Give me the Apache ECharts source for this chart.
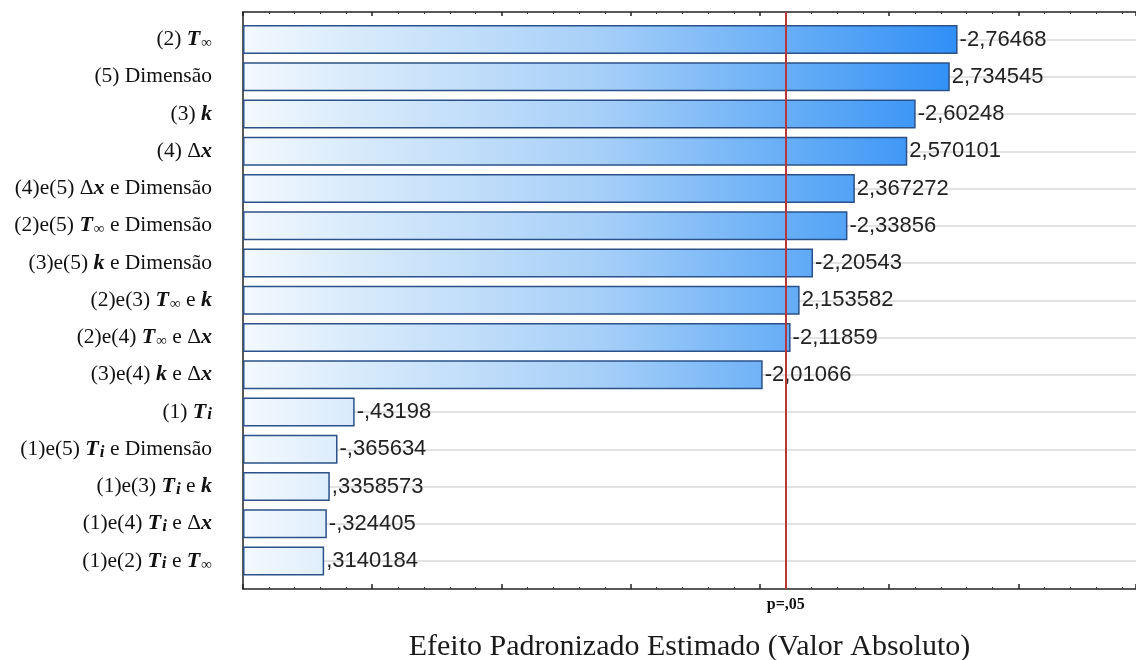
<!DOCTYPE html>
<html>
<head>
<meta charset="utf-8">
<script src="https://cdn.jsdelivr.net/npm/echarts@6/dist/echarts.min.js"></script>
<style>
  html, body { margin: 0; padding: 0; background: #fff; }
  #chart { width: 1136px; height: 660px; }
</style>
</head>
<body>
<div id="chart"></div>
<script>
// Effects, top to bottom (rich-text markup for the math symbols)
const categories = [
  '(2) {b|T}{s|∞}',
  '(5) Dimensão',
  '(3) {b|k}',
  '(4) Δ{b|x}',
  '(4)e(5) Δ{b|x} e Dimensão',
  '(2)e(5) {b|T}{s|∞} e Dimensão',
  '(3)e(5) {b|k} e Dimensão',
  '(2)e(3) {b|T}{s|∞} e {b|k}',
  '(2)e(4) {b|T}{s|∞} e Δ{b|x}',
  '(3)e(4) {b|k} e Δ{b|x}',
  '(1) {b|T}{i|i}',
  '(1)e(5) {b|T}{i|i} e Dimensão',
  '(1)e(3) {b|T}{i|i} e {b|k}',
  '(1)e(4) {b|T}{i|i} e Δ{b|x}',
  '(1)e(2) {b|T}{i|i} e {b|T}{s|∞}'
];

// Standardized effect estimates (signed); bars show the absolute value
const effects = [
  -2.76468, 2.734545, -2.60248, 2.570101, 2.367272,
  -2.33856, -2.20543, 2.153582, -2.11859, -2.01066,
  -0.43198, -0.365634, 0.3358573, -0.324405, 0.3140184
];

// Critical value for p = .05
const pCritical = 2.101;
const pLabel = 'p=,05';
const axisTitle = 'Efeito Padronizado Estimado (Valor Absoluto)';

const xMax = 3.455;

// "0.3140184" -> ",3140184", "-2.76468" -> "-2,76468"
function fmt(v) {
  return String(v).replace('.', ',').replace(/^(-?)0,/, '$1,');
}

const serif = 'Liberation Serif, Times New Roman, serif';
const sans = 'Liberation Sans, Arial, sans-serif';

const barFill = new echarts.graphic.LinearGradient(243, 0, 960, 0, [
  { offset: 0, color: '#f3f9fe' },
  { offset: 0.15, color: '#d9ebfb' },
  { offset: 0.5, color: '#a6cff8' },
  { offset: 0.75, color: '#69aff6' },
  { offset: 1, color: '#2f8ff6' }
], true);

const chart = echarts.init(document.getElementById('chart'), null, { renderer: 'canvas' });

chart.setOption({
  animation: false,
  backgroundColor: '#ffffff',
  grid: [
    // bars
    { left: 243, right: 0, top: 20.9, height: 558.75, outerBoundsMode: 'none', containLabel: false },
    // frame, ticks and p-line
    { left: 243, right: 0, top: 12, bottom: 71, outerBoundsMode: 'none', containLabel: false }
  ],
  xAxis: [
    {
      gridIndex: 0, type: 'value', min: 0, max: xMax, interval: 0.5,
      show: false
    },
    {
      gridIndex: 1, type: 'value', min: 0, max: xMax, interval: 0.5,
      position: 'bottom',
      axisLine: { show: true, lineStyle: { color: '#222', width: 1.5 } },
      axisTick: { show: true, inside: true, length: 5, lineStyle: { color: '#222', width: 1.5 } },
      minorTick: { show: true, splitNumber: 5, length: 2, lineStyle: { color: '#333', width: 1 } },
      axisLabel: { show: false },
      splitLine: { show: false },
      name: axisTitle,
      nameLocation: 'middle',
      nameGap: 43,
      nameTextStyle: { fontFamily: serif, fontSize: 30, color: '#1a1a1a' }
    },
    {
      gridIndex: 1, type: 'value', min: 0, max: xMax, interval: 0.5,
      position: 'top',
      axisLine: { show: true, lineStyle: { color: '#222', width: 1.5 } },
      axisTick: { show: true, inside: true, length: 4, lineStyle: { color: '#222', width: 1.5 } },
      minorTick: { show: true, splitNumber: 5, length: 2, lineStyle: { color: '#333', width: 1 } },
      axisLabel: { show: false },
      splitLine: { show: false }
    }
  ],
  yAxis: [
    {
      gridIndex: 0, type: 'category', inverse: true, data: categories,
      axisLine: { show: false },
      axisTick: { show: true, inside: true, alignWithLabel: true, length: 4, lineStyle: { color: '#222', width: 1.5 } },
      splitLine: { show: false },
      axisLabel: {
        margin: 31,
        fontFamily: serif,
        fontSize: 21.5,
        color: '#111',
        rich: {
          b: { fontFamily: serif, fontSize: 22, fontWeight: 'bold', fontStyle: 'italic', color: '#111' },
          s: { fontFamily: serif, fontSize: 15, color: '#111', verticalAlign: 'bottom', padding: [6, 0, 0, 1] },
          i: { fontFamily: serif, fontSize: 17, fontWeight: 'bold', fontStyle: 'italic', color: '#111', verticalAlign: 'bottom', padding: [6, 0, 0, 1] }
        }
      }
    },
    {
      gridIndex: 1, type: 'value', min: 0, max: 1,
      axisLine: { show: true, lineStyle: { color: '#222', width: 1.5 } },
      axisTick: { show: false },
      axisLabel: { show: false },
      splitLine: { show: false }
    }
  ],
  series: [
    {
      type: 'bar',
      xAxisIndex: 0,
      yAxisIndex: 0,
      barWidth: 29,
      z: 3,
      data: effects.map(v => Math.abs(v)),
      itemStyle: { color: barFill, borderColor: '#2a5189', borderWidth: 1.5 },
      label: {
        show: true,
        position: 'right',
        distance: 2,
        fontFamily: sans,
        fontSize: 22,
        color: '#222',
        formatter: p => fmt(effects[p.dataIndex])
      },
      markLine: {
        silent: true,
        symbol: 'none',
        z: 1,
        label: { show: false },
        lineStyle: { color: '#d9d9d9', width: 1.5, type: 'solid' },
        data: categories.map((c, i) => ({ yAxis: i }))
      }
    },
    {
      type: 'line',
      xAxisIndex: 1,
      yAxisIndex: 1,
      data: [],
      markLine: {
        silent: true,
        symbol: 'none',
        z: 10,
        lineStyle: { color: '#b8373b', width: 2, type: 'solid' },
        label: {
          show: true,
          position: 'start',
          distance: 8,
          formatter: pLabel,
          fontFamily: serif,
          fontWeight: 'bold',
          fontSize: 16,
          color: '#111'
        },
        data: [{ xAxis: pCritical }]
      }
    }
  ]
});
</script>
</body>
</html>
